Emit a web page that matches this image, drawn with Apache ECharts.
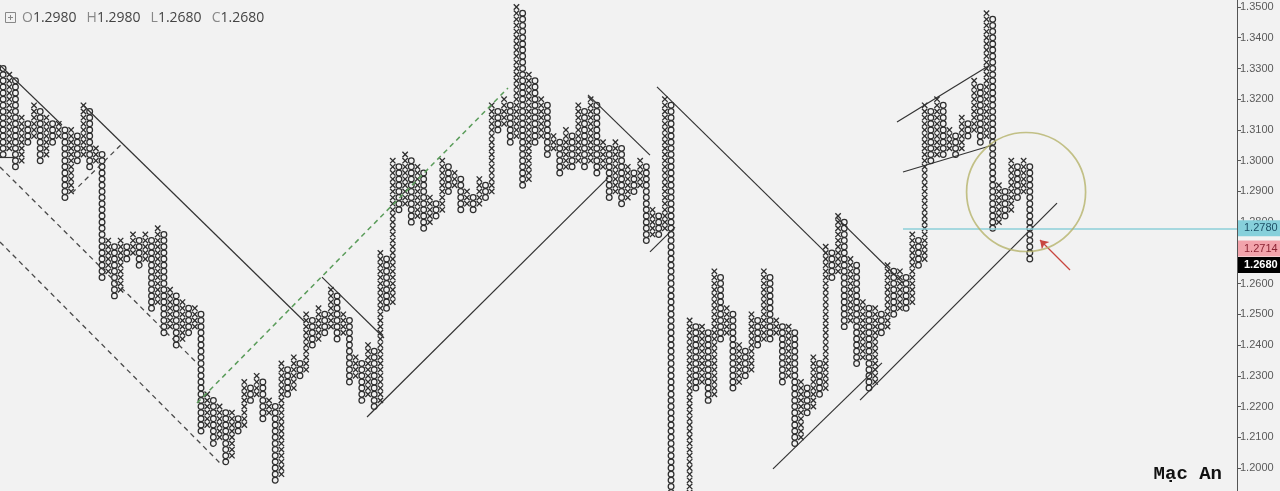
<!DOCTYPE html>
<html><head><meta charset="utf-8">
<script src="https://cdn.jsdelivr.net/npm/echarts@6/dist/echarts.min.js"></script>
<style>html,body{margin:0;padding:0;background:#f2f2f2;}#c{width:1280px;height:491px;}</style>
</head><body><div id="c"></div>
<script>
// ---- Point & Figure data (box size 0.002, 3-box reversal) ----
const BOX = 0.002;
const firstColumnTop = 1.330;
// Column extremes, alternating: O column -> its low, X column -> its high (first column is O)
const columnExtremes = [
  1.302,1.328,1.298,1.314,1.306,1.318,1.300,1.314,1.306,1.312,
  1.288,1.310,1.300,1.318,1.298,1.304,1.262,1.274,1.256,1.274,
  1.268,1.276,1.266,1.276,1.252,1.278,1.244,1.258,1.240,1.254,
  1.244,1.252,1.212,1.224,1.208,1.220,1.202,1.218,1.212,1.228,
  1.222,1.230,1.216,1.222,1.196,1.234,1.224,1.236,1.230,1.250,
  1.240,1.252,1.244,1.258,1.242,1.250,1.228,1.236,1.222,1.240,
  1.220,1.270,1.252,1.300,1.284,1.302,1.280,1.298,1.278,1.288,
  1.282,1.300,1.290,1.296,1.284,1.290,1.284,1.294,1.288,1.318,
  1.310,1.320,1.306,1.350,1.292,1.328,1.306,1.320,1.302,1.308,
  1.296,1.310,1.298,1.318,1.298,1.320,1.296,1.306,1.288,1.306,
  1.286,1.298,1.290,1.300,1.274,1.284,1.276,1.320,1.180,1.186,
  1.178,1.248,1.226,1.246,1.222,1.264,1.242,1.252,1.226,1.240,
  1.230,1.250,1.240,1.264,1.242,1.248,1.228,1.246,1.208,1.228,
  1.218,1.236,1.224,1.272,1.262,1.282,1.246,1.268,1.234,1.254,
  1.226,1.252,1.244,1.266,1.250,1.264,1.252,1.276,1.266,1.318,
  1.300,1.320,1.302,1.310,1.302,1.314,1.308,1.326,1.306,1.348,
  1.278,1.292,1.282,1.300,1.288,1.300,1.268
];
const totalSlots = 200;

// Drawn trend lines: [[col, price], [col, price]]
const solidLines = [
  [[0,1.3311],[10.02,1.3116]],
  [[13.42,1.3181],[49.31,1.2475]],
  [[52.06,1.2621],[62.09,1.2423]],
  [[59.34,1.2166],[98.30,1.2944]],
  [[95.07,1.3214],[105.09,1.3018]],
  [[105.09,1.2703],[109.14,1.2784]],
  [[106.22,1.3240],[133.55,1.2700]],
  [[135.17,1.2817],[146.0,1.2602]],
  [[124.98,1.1997],[142.6,1.2342]],
  [[139.05,1.2221],[170.9,1.2862]],
  [[145.03,1.3126],[160.06,1.3311]],
  [[146.0,1.2963],[160.55,1.3051]],
  [[0,1.3012],[2.75,1.3012]]
];
const dashedLines = [
  [[0,1.29794],[31.85,1.23416]],
  [[0,1.27353],[35.89,1.20097]],
  [[11.64,1.2895],[19.89,1.3058]]
];
const greenDashedLines = [
  [[31.85,1.22114],[82.13,1.32364]]
];
const levelLine = [[146.0,1.278],[200,1.278]];
const highlightCircle = [165.9, 1.2898];
const arrowLine = [[173.0,1.26442],[168.15,1.27418]];

const ohlcLabels = ['O','H','L','C'];
const ohlcValues = [1.2980, 1.2980, 1.2680, 1.2680];
const tagValues = [1.2780, 1.2714, 1.2680];

// ---- build columns ----
const r4 = v => Math.round(v*10000)/10000;
const columns = [];
let prev = null;
columnExtremes.forEach((e, i) => {
  const isO = i % 2 === 0;
  let lo, hi;
  if (i === 0) { hi = firstColumnTop; lo = e; }
  else if (isO) { hi = r4(prev - BOX); lo = e; }
  else { lo = r4(prev + BOX); hi = e; }
  columns.push([i + 0.5, lo, hi, isO ? 0 : 1]);
  prev = e;
});

const chart = echarts.init(document.getElementById('c'));
const INK = '#2e2e2e';

function renderPF(params, api) {
  const x = api.value(0), lo = api.value(1), hi = api.value(2), t = api.value(3);
  const n = Math.round((hi - lo) / BOX);
  const ch = [];
  for (let k = 0; k <= n; k++) {
    const p = api.coord([x, lo + k * BOX]);
    if (t === 0) {
      ch.push({type:'circle', shape:{cx:p[0], cy:p[1], r:2.85},
        style:{fill:'none', stroke:INK, lineWidth:1.25}});
    } else {
      const h = 2.7;
      ch.push({type:'line', shape:{x1:p[0]-h, y1:p[1]-h, x2:p[0]+h, y2:p[1]+h}, style:{stroke:INK, lineWidth:1.3}});
      ch.push({type:'line', shape:{x1:p[0]-h, y1:p[1]+h, x2:p[0]+h, y2:p[1]-h}, style:{stroke:INK, lineWidth:1.3}});
    }
  }
  return {type:'group', children: ch};
}

const toLines = arr => arr.map(s => ({coords: s}));

chart.setOption({
  backgroundColor: '#f2f2f2',
  animation: false,
  grid: {left: 0, right: 43, top: -23.73, bottom: -7.73, containLabel:false, outerBoundsMode:'none'},
  xAxis: {type:'value', min:0, max: totalSlots, show:false},
  yAxis: {
    type:'value', position:'right', min:1.19, max:1.36, interval:0.01, scale:true,
    axisLine:{show:true, onZero:false, lineStyle:{color:'#555', width:1}},
    axisTick:{show:true, length:4, lineStyle:{color:'#555'}},
    splitLine:{show:false},
    axisLabel:{color:'#5a5a5a', fontSize:11, fontFamily:'Liberation Sans, Arial', margin:3,
      formatter: v => v.toFixed(4)}
  },
  series: [
    {type:'custom', renderItem: renderPF, data: columns, clip:true, silent:true},
    {type:'lines', coordinateSystem:'cartesian2d', silent:true, z:3,
      lineStyle:{color:'#333', width:1.2, opacity:1}, data: toLines(solidLines)},
    {type:'lines', coordinateSystem:'cartesian2d', silent:true, z:3,
      lineStyle:{color:'#4a4a4a', width:1.3, type:[5,4], opacity:1}, data: toLines(dashedLines)},
    {type:'lines', coordinateSystem:'cartesian2d', silent:true, z:3,
      lineStyle:{color:'#5a9c5a', width:1.5, type:[5,4], opacity:1}, data: toLines(greenDashedLines)},
    {type:'lines', coordinateSystem:'cartesian2d', silent:true, z:3,
      lineStyle:{color:'#8ccfd8', width:1.5, opacity:1}, data: toLines([levelLine])},
    {type:'lines', coordinateSystem:'cartesian2d', silent:true, z:4,
      symbol:['none','arrow'], symbolSize:8,
      lineStyle:{color:'#c8463f', width:1.2, opacity:1}, data: toLines([arrowLine])},
    {type:'scatter', silent:true, z:4, symbol:'circle', symbolSize:119,
      itemStyle:{color:'rgba(0,0,0,0)', borderColor:'#b5b36a', borderWidth:1.7},
      data:[highlightCircle]}
  ]
});

// ---- overlays: legend, price tags, signature ----
const rich = {
  l:{fill:'#888', fontSize:14, fontFamily:'Open Sans, Noto Sans, Arial'},
  v:{fill:'#444', fontSize:14, fontFamily:'Open Sans, Noto Sans, Arial'},
  s:{fontSize:14, width:10}
};
const legendText = ohlcLabels.map((l, i) => `{l|${l}}{v|${ohlcValues[i].toFixed(4)}}`).join('{s| }');

const tagStyles = [
  {bg:'#86d0db', fg:'#1d4f66', bold:false},
  {bg:'#f2a3ab', fg:'#8a2232', bold:false},
  {bg:'#000000', fg:'#ffffff', bold:true}
];
const tagH = 16;
let tagYs = tagValues.map(v => chart.convertToPixel({yAxisIndex:0}, v));
for (let i = 1; i < tagYs.length; i++) if (tagYs[i] < tagYs[i-1] + tagH + 0.5) tagYs[i] = tagYs[i-1] + tagH + 0.5;
const axisX = chart.convertToPixel({xAxisIndex:0}, totalSlots);
const tagEls = [];
tagValues.forEach((v, i) => {
  const y = tagYs[i], st = tagStyles[i];
  tagEls.push({type:'rect', shape:{x:axisX+1, y:y-tagH/2, width:1280-axisX-1, height:tagH},
    style:{fill:st.bg}, z:100});
  tagEls.push({type:'text', x:axisX+7, y:y, z:101,
    style:{text:v.toFixed(4), fill:st.fg, fontSize:11, fontWeight: st.bold?'bold':'normal',
      fontFamily:'Liberation Sans, Arial', verticalAlign:'middle', align:'left'}});
});

chart.setOption({
  graphic: [
    {type:'rect', shape:{x:5.5, y:12.5, width:10, height:10}, style:{fill:'none', stroke:'#888', lineWidth:1}, z:100},
    {type:'line', shape:{x1:8, y1:17.5, x2:13, y2:17.5}, style:{stroke:'#888', lineWidth:1}, z:100},
    {type:'line', shape:{x1:10.5, y1:15, x2:10.5, y2:20}, style:{stroke:'#888', lineWidth:1}, z:100},
    {type:'text', x:22, y:18, z:100, style:{text:legendText, rich:rich, verticalAlign:'middle'}},
    {type:'text', x:1222, y:474, z:100, style:{text:'Mạc An', fill:'#111', fontSize:19, fontWeight:'bold',
      fontFamily:'Liberation Mono, DejaVu Sans Mono, monospace', align:'right', verticalAlign:'middle'}},
    ...tagEls
  ]
});
</script></body></html>
